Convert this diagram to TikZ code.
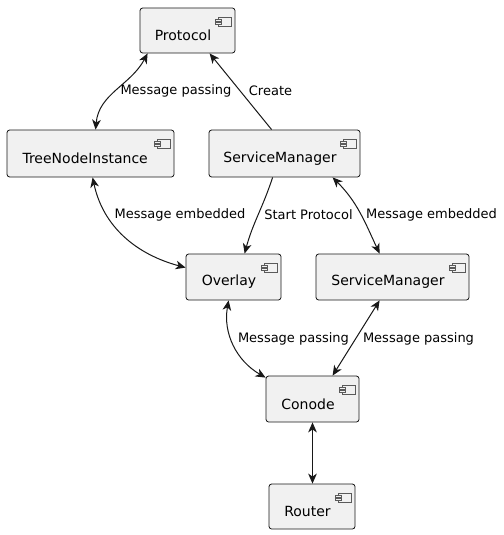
\documentclass[tikz,border=0pt]{standalone}
\usepackage{fontspec}
\setmainfont{DejaVu Sans}
\usetikzlibrary{arrows.meta,calc}
\definecolor{boxfill}{HTML}{F1F1F1}
\definecolor{ink}{HTML}{181818}
\definecolor{icon}{HTML}{5A5A5A}
\tikzset{
  x=0.75pt, y=-0.75pt,
  comp/.style={draw=ink, fill=boxfill, rounded corners=2pt, line width=0.6pt, inner sep=0pt,
    path picture={
      \coordinate (ic) at ($(path picture bounding box.north east)+(-20,9)$);
      \draw[icon, line width=0.45pt, fill=boxfill, sharp corners] ($(ic)+(3,0)$) rectangle ($(ic)+(16,9)$);
      \draw[icon, line width=0.45pt, fill=boxfill, sharp corners] ($(ic)+(0,2)$) rectangle ($(ic)+(6,4)$);
      \draw[icon, line width=0.45pt, fill=boxfill, sharp corners] ($(ic)+(0,5.5)$) rectangle ($(ic)+(6,7.5)$);
    }},
  ctext/.style={font=\fontsize{10.5pt}{12pt}\selectfont, text=black},
  elabel/.style={font=\fontsize{9.75pt}{11pt}\selectfont, text=black, inner sep=0pt},
  conn/.style={draw=ink, line width=0.75pt},
  tip/.tip={Stealth[length=7.5pt,width=6.5pt,inset=2.2pt]},
}
\begin{document}
\begin{tikzpicture}
\useasboundingbox (0,0) rectangle (503,535);
% components
\node[comp, minimum width=71.25pt, minimum height=33.75pt,
  label={[ctext,xshift=-3.4pt,yshift=-3.6pt]center:Protocol}] (p) at (187.5,30.5) {};
\node[comp, minimum width=125.25pt, minimum height=35.25pt,
  label={[ctext,xshift=-4pt,yshift=-3.6pt]center:TreeNodeInstance}] (tni) at (90.5,153.5) {};
\node[comp, minimum width=113.25pt, minimum height=35.25pt,
  label={[ctext,xshift=-3.4pt,yshift=-3.6pt]center:ServiceManager}] (sm) at (284.5,153.5) {};
\node[comp, minimum width=71.25pt, minimum height=34.5pt,
  label={[ctext,xshift=-3.4pt,yshift=-3.6pt]center:Overlay}] (ov) at (233.5,277) {};
\node[comp, minimum width=114.75pt, minimum height=34.5pt,
  label={[ctext,xshift=-3.4pt,yshift=-3.6pt]center:ServiceManager}] (sm2) at (392.5,277) {};
\node[comp, minimum width=69.75pt, minimum height=34.5pt,
  label={[ctext,xshift=-3.4pt,yshift=-3.6pt]center:Conode}] (co) at (312.5,399) {};
\node[comp, minimum width=64.5pt, minimum height=33.75pt,
  label={[ctext,xshift=-3.4pt,yshift=-3.6pt]center:Router}] (ro) at (312,506.5) {};
% connectors
\draw[conn, {tip}-{tip}] ($(p.south west)+(8,0)$) to[out=-118, in=85] ($(tni.north west)+(89,0)$);
\draw[conn, -{tip}] ($(sm.north west)+(63,0)$) -- ($(p.south west)+(70,0)$);
\draw[conn, {tip}-{tip}] ($(tni.south west)+(86,0)$) to[out=-78, in=165] ($(ov.north west)+(0,14)$);
\draw[conn, -{tip}] ($(sm.south west)+(64,0)$) to[out=-108, in=75] ($(ov.north west)+(59,0)$);
\draw[conn, {tip}-{tip}] ($(sm.south west)+(124,0)$) to[out=-45, in=115] ($(sm2.north west)+(64,0)$);
\draw[conn, {tip}-{tip}] ($(ov.south west)+(43,0)$) to[out=-100, in=150] ($(co.north west)+(0,2)$);
\draw[conn, {tip}-{tip}] ($(sm2.south west)+(64,0)$) -- ($(co.north west)+(67,0)$);
\draw[conn, {tip}-{tip}] (co.south) -- (ro.north -| co.south);
% labels
\node[elabel] (l1) at (176,91) {Message passing};
\node[elabel] (l2) at (270.5,91) {Create};
\node[elabel] (l3) at (180,215) {Message embedded};
\node[elabel] (l4) at (308.5,215) {Start Protocol};
\node[elabel] (l5) at (431.5,215) {Message embedded};
\node[elabel] (l6) at (293.5,339) {Message passing};
\node[elabel] (l7) at (418.5,339) {Message passing};
\end{tikzpicture}
\end{document}
